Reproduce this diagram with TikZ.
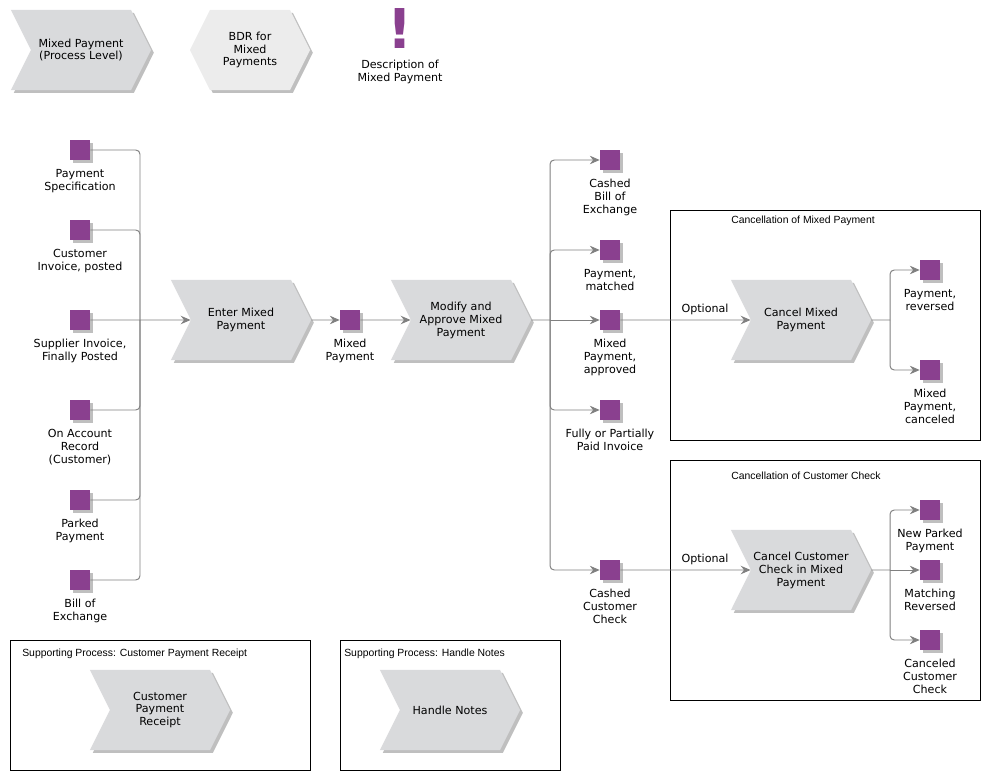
\documentclass[tikz,border=0pt]{standalone}
\usepackage{fontspec}
\setmainfont{DejaVu Sans}
\newfontfamily\ttlfont{Liberation Sans}
\usetikzlibrary{shapes.symbols, arrows.meta, shadows}
\definecolor{evpurple}{RGB}{138,64,143}
\definecolor{funcgray}{RGB}{217,218,220}
\definecolor{rulegray}{RGB}{236,236,236}
\definecolor{linegray}{RGB}{128,128,128}
\newcommand{\evfont}{\fontsize{7.9}{9.2}\selectfont}
\tikzstyle{softshadow} = [drop shadow={shadow xshift=2pt, shadow yshift=-2pt, opacity=0.25, fill=black}]
\tikzstyle{func} = [signal, signal to=east, signal from=west, signal pointer angle=127, minimum width=3.5cm, minimum height=2cm, inner sep=1pt, fill=funcgray, text centered, align=center, font=\evfont, softshadow]
\tikzstyle{rulebox} = [signal, signal to=east and west, signal pointer angle=127, minimum width=3cm, minimum height=2cm, inner sep=1pt, fill=rulegray, text centered, align=center, font=\evfont, softshadow]
\tikzstyle{event} = [rectangle, minimum size=0.5cm, inner sep=0pt, fill=evpurple, softshadow]
\tikzstyle{every label} = [font=\evfont, align=center, label distance=3pt]
\tikzstyle{title} = [font=\ttlfont\fontsize{7.4}{9}\selectfont, inner sep=0pt]
\tikzstyle{frame} = [draw=black, line width=0.6pt]
\tikzstyle{line} = [draw=linegray, line width=0.7pt, rounded corners=3pt]
\tikzstyle{arrow} = [line, -{Stealth[length=7pt, width=6pt]}]
\begin{document}
\begin{tikzpicture}[x=0.025cm, y=-0.025cm]
        \useasboundingbox (0,0) rectangle (990,780);
        % Header
        \node (mpl) [func] at (81,50) {Mixed Payment\\(Process Level)};
        \node (bdr) [rulebox] at (250,50) {BDR for\\Mixed\\Payments};
        \node (desc) [text=evpurple, font=\fontsize{39}{39}\selectfont\bfseries, inner sep=0pt] at (400,29) {!};
        \node (descText) [font=\evfont, align=center, below=4pt] at (desc.south) {Description of\\Mixed Payment};

        % Frames
        \draw [frame] (670,210) rectangle (980,440);
        \draw [frame] (670,460) rectangle (980,700);
        \draw [frame] (10,640) rectangle (310,770);
        \draw [frame] (340,640) rectangle (560,770);
        \node (titleMixed) [title] at (803,221) {Cancellation of Mixed Payment};
        \node (titleCheck) [title] at (806,476) {Cancellation of Customer Check};
        \node (titleReceipt) [title, anchor=west] at (22,654) {Supporting Process: Customer Payment Receipt};
        \node (titleNotes) [title, anchor=west] at (344,654) {Supporting Process: Handle Notes};

        % Input events
        \node (paySpec) [event, label={below:Payment\\Specification}] at (80,150) {};
        \node (custInv) [event, label={below:Customer\\Invoice, posted}] at (80,230) {};
        \node (suppInv) [event, label={below:Supplier Invoice,\\Finally Posted}] at (80,320) {};
        \node (onAcc) [event, label={below:On Account\\Record\\(Customer)}] at (80,410) {};
        \node (parked) [event, label={below:Parked\\Payment}] at (80,500) {};
        \node (billEx) [event, label={below:Bill of\\Exchange}] at (80,580) {};
        \coordinate (joinIn) at (140,320);

        % Main flow
        \node (enter) [func] at (241,320) {Enter Mixed\\Payment};
        \node (mixedPay) [event, label={below:Mixed\\Payment}] at (350,320) {};
        \node (modify) [func] at (461,320) {Modify and\\Approve Mixed\\Payment};
        \coordinate (joinOut) at (550,320);

        % Result events
        \node (cashedBill) [event, label={below:Cashed\\Bill of\\Exchange}] at (610,160) {};
        \node (payMatched) [event, label={below:Payment,\\matched}] at (610,250) {};
        \node (mixedApproved) [event, label={below:Mixed\\Payment,\\approved}] at (610,320) {};
        \node (paidInv) [event, label={below:Fully or Partially\\Paid Invoice}] at (610,410) {};
        \node (cashedCheck) [event, label={below:Cashed\\Customer\\Check}] at (610,570) {};

        % Cancellations
        \node (cancelMixed) [func] at (801,320) {Cancel Mixed\\Payment};
        \coordinate (joinCancel) at (890,320);
        \node (payReversed) [event, label={below:Payment,\\reversed}] at (930,270) {};
        \node (mixedCanceled) [event, label={below:Mixed\\Payment,\\canceled}] at (930,370) {};
        \node (cancelCheck) [func] at (801,570) {Cancel Customer\\Check in Mixed\\Payment};
        \coordinate (joinCheck) at (890,570);
        \node (newParked) [event, label={below:New Parked\\Payment}] at (930,510) {};
        \node (matchRev) [event, label={below:Matching\\Reversed}] at (930,570) {};
        \node (canceledCheck) [event, label={below:Canceled\\Customer\\Check}] at (930,640) {};

        % Supporting processes
        \node (custReceipt) [func] at (160,710) {Customer\\Payment\\Receipt};
        \node (handleNotes) [func] at (450,710) {Handle Notes};

        % Arrows
        \draw [line] (paySpec) -| (joinIn);
        \draw [line] (custInv) -| (joinIn);
        \draw [line] (onAcc) -| (joinIn);
        \draw [line] (parked) -| (joinIn);
        \draw [line] (billEx) -| (joinIn);
        \draw [arrow] (suppInv) -- (enter);
        \draw [arrow] (enter) -- (mixedPay);
        \draw [arrow] (mixedPay) -- (modify);
        \draw [line] (modify) -- (joinOut);
        \draw [arrow] (joinOut) |- (cashedBill);
        \draw [arrow] (joinOut) |- (payMatched);
        \draw [arrow] (joinOut) -- (mixedApproved);
        \draw [arrow] (joinOut) |- (paidInv);
        \draw [arrow] (joinOut) |- (cashedCheck);
        \draw [arrow] (mixedApproved) -- (cancelMixed) node (optMixed) [pos=0.65, above, font=\evfont] {Optional};
        \draw [line] (cancelMixed) -- (joinCancel);
        \draw [arrow] (joinCancel) |- (payReversed);
        \draw [arrow] (joinCancel) |- (mixedCanceled);
        \draw [arrow] (cashedCheck) -- (cancelCheck) node (optCheck) [pos=0.65, above, font=\evfont] {Optional};
        \draw [line] (cancelCheck) -- (joinCheck);
        \draw [arrow] (joinCheck) |- (newParked);
        \draw [arrow] (joinCheck) -- (matchRev);
        \draw [arrow] (joinCheck) |- (canceledCheck);
    \end{tikzpicture}
\end{document}
